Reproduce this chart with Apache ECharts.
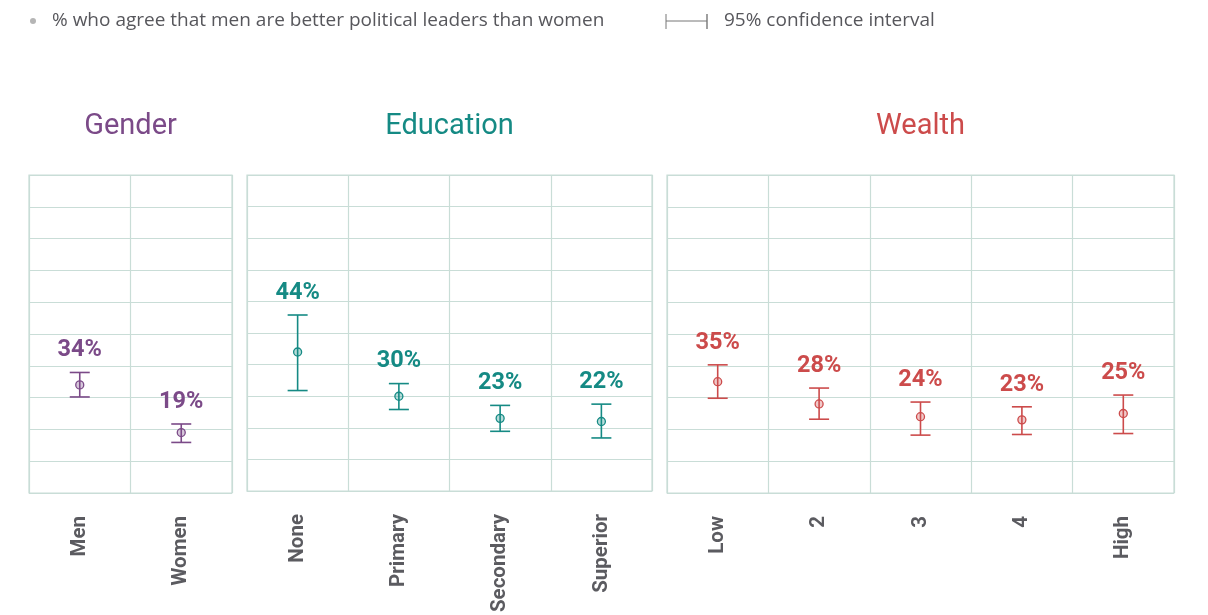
<!DOCTYPE html>
<html>
<head>
<meta charset="utf-8">
<script src="https://cdn.jsdelivr.net/npm/echarts@6/dist/echarts.min.js"></script>
<style>
  html, body { margin: 0; padding: 0; background: #ffffff; }
  #chart { width: 1208px; height: 615px; }
</style>
</head>
<body>
<div id="chart"></div>
<script>
// Share (%) agreeing that men make better political leaders, with 95% CI
const genderCats = ['Men', 'Women'];
const genderValues = [34, 19];
const genderLow = [30.2, 15.9];
const genderHigh = [37.9, 21.7];

const educationCats = ['None', 'Primary', 'Secondary', 'Superior'];
const educationValues = [44, 30, 23, 22];
const educationLow = [31.8, 25.8, 18.9, 16.8];
const educationHigh = [55.7, 34.0, 27.1, 27.5];

const wealthCats = ['Low', '2', '3', '4', 'High'];
const wealthValues = [35, 28, 24, 23, 25];
const wealthLow = [29.8, 23.2, 18.2, 18.4, 18.7];
const wealthHigh = [40.3, 33.0, 28.6, 27.1, 30.8];

const panelTitles = ['Gender', 'Education', 'Wealth'];
const legendText = '% who agree that men are better political leaders than women';
const ciLegendText = '95% confidence interval';

const purple = '#7b4a88';
const teal = '#158a84';
const red = '#cc4b4b';
const gridColor = '#c9ddd7';
const labelGray = '#5b5b60';

const panels = [
  { cats: genderCats, vals: genderValues, lo: genderLow, hi: genderHigh, color: purple, left: 29, width: 203 },
  { cats: educationCats, vals: educationValues, lo: educationLow, hi: educationHigh, color: teal, left: 247, width: 405 },
  { cats: wealthCats, vals: wealthValues, lo: wealthLow, hi: wealthHigh, color: red, left: 667, width: 507 }
];

const TOP = 175, BOTTOM = 122;

function hexA(hex, a) {
  const n = parseInt(hex.slice(1), 16);
  return 'rgba(' + (n >> 16) + ',' + ((n >> 8) & 255) + ',' + (n & 255) + ',' + a + ')';
}

// Error bar with caps, centre marker and value label above the upper cap
function makeRenderer(color) {
  return function (params, api) {
    const x = api.value(0);
    const v = api.value(1), lo = api.value(2), hi = api.value(3);
    const pHi = api.coord([x, hi]);
    const pLo = api.coord([x, lo]);
    const p = api.coord([x, v]);
    const cap = 10;
    const ls = { stroke: color, lineWidth: 1.6 };
    return {
      type: 'group',
      children: [
        { type: 'line', shape: { x1: pHi[0], y1: pHi[1], x2: pLo[0], y2: pLo[1] }, style: ls },
        { type: 'line', shape: { x1: pHi[0] - cap, y1: pHi[1], x2: pHi[0] + cap, y2: pHi[1] }, style: ls },
        { type: 'line', shape: { x1: pLo[0] - cap, y1: pLo[1], x2: pLo[0] + cap, y2: pLo[1] }, style: ls },
        { type: 'circle', shape: { cx: p[0], cy: p[1], r: 4 }, style: { fill: hexA(color, 0.3), stroke: color, lineWidth: 1.3 } },
        { type: 'text', style: {
            text: v + '%', x: pHi[0], y: pHi[1] - 22,
            align: 'center', verticalAlign: 'middle',
            font: 'bold 23.5px Roboto', fill: color } }
      ]
    };
  };
}

const grids = [], xAxes = [], yAxes = [], series = [], graphics = [];

panels.forEach(function (pn, i) {
  grids.push({
    left: pn.left, width: pn.width, top: TOP, bottom: BOTTOM,
    show: true, borderColor: gridColor, borderWidth: 1.2, backgroundColor: 'transparent'
  });
  xAxes.push({
    type: 'category', gridIndex: i, data: pn.cats, boundaryGap: true,
    axisLine: { show: false }, axisTick: { show: false },
    splitLine: { show: true, interval: 0, lineStyle: { color: gridColor, width: 1.2 } },
    axisLabel: {
      rotate: 90, margin: 23, interval: 0,
      color: labelGray, fontFamily: 'Roboto', fontWeight: 'bold', fontSize: 20.5
    }
  });
  yAxes.push({
    type: 'value', gridIndex: i, min: 0, max: 100, interval: 10,
    axisLabel: { show: false }, axisLine: { show: false }, axisTick: { show: false },
    splitLine: { show: true, lineStyle: { color: gridColor, width: 1.2 } }
  });
  series.push({
    type: 'custom', xAxisIndex: i, yAxisIndex: i,
    renderItem: makeRenderer(pn.color),
    encode: { x: 0, y: [1, 2, 3] },
    data: pn.cats.map(function (c, k) { return [k, pn.vals[k], pn.lo[k], pn.hi[k]]; }),
    z: 5
  });
  graphics.push({
    type: 'text', x: pn.left + pn.width / 2, y: 127,
    style: {
      text: panelTitles[i], x: 0, y: 0, align: 'center', verticalAlign: 'middle',
      font: '29px Roboto', fill: pn.color
    }
  });
});

// Legend row
graphics.push(
  { type: 'circle', shape: { cx: 33, cy: 21, r: 3 }, style: { fill: '#b5b5b5' } },
  { type: 'text', x: 52, y: 21, style: { text: legendText, x: 0, y: 0, verticalAlign: 'middle', font: '19px "Open Sans"', fill: '#57575c' } },
  { type: 'line', shape: { x1: 666, y1: 14, x2: 666, y2: 29 }, style: { stroke: '#777', lineWidth: 1 } },
  { type: 'line', shape: { x1: 666, y1: 21, x2: 707, y2: 21 }, style: { stroke: '#777', lineWidth: 1 } },
  { type: 'line', shape: { x1: 707, y1: 14, x2: 707, y2: 29 }, style: { stroke: '#777', lineWidth: 1.4 } },
  { type: 'text', x: 724, y: 21, style: { text: ciLegendText, x: 0, y: 0, verticalAlign: 'middle', font: '19px "Open Sans"', fill: '#57575c' } }
);

const chart = echarts.init(document.getElementById('chart'), null, { renderer: 'canvas' });
chart.setOption({
  animation: false,
  backgroundColor: '#ffffff',
  grid: grids,
  xAxis: xAxes,
  yAxis: yAxes,
  series: series,
  graphic: graphics
});
</script>
</body>
</html>
